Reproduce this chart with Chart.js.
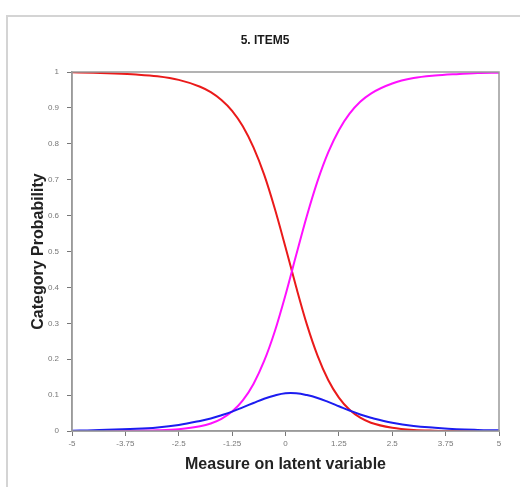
<!DOCTYPE html>
<html>
<head>
<meta charset="utf-8">
<title>5. ITEM5</title>
<script src="https://cdn.jsdelivr.net/npm/chart.js@4.4.1/dist/chart.umd.min.js"></script>
<style>
    html, body { margin: 0; padding: 0; background: #fff; }
    #wrap  { position: relative; width: 522px; height: 487px; overflow: hidden; }
    #frame { position: absolute; left: 6px; top: 15px; width: 512px; height: 480px;
             border-top: 2px solid #d4d4d4; border-left: 2px solid #d4d4d4; }
    #chart { position: absolute; left: 0; top: 0; }
</style>
</head>
<body>
<div id="wrap">
    <div id="frame"></div>
    <canvas id="chart" width="522" height="487"></canvas>
</div>
<script>
// measure on the latent variable
const measures = [-5, -4.5, -4, -3.5, -3, -2.5, -2, -1.75, -1.5, -1.25, -1, -0.75, -0.5, -0.25,
                  0, 0.25, 0.5, 0.75, 1, 1.25, 1.5, 1.75, 2, 2.5, 3, 3.5, 4, 4.5, 5];

// category 0 (red)
const cat0 = [0.999, 0.998, 0.996, 0.993, 0.988, 0.978, 0.959, 0.944, 0.922, 0.892, 0.849, 0.790, 0.714, 0.619,
              0.512, 0.401, 0.297, 0.210, 0.142, 0.093, 0.059, 0.037, 0.023, 0.009, 0.003, 0.001, 0.000, 0.000, 0.000];

// category 1 (blue)
const cat1 = [0.001, 0.002, 0.004, 0.006, 0.010, 0.017, 0.028, 0.035, 0.044, 0.054, 0.066, 0.078, 0.090, 0.099,
              0.105, 0.105, 0.100, 0.092, 0.081, 0.069, 0.057, 0.046, 0.037, 0.023, 0.014, 0.009, 0.005, 0.003, 0.002];

// category 2 (magenta)
const cat2 = [0.000, 0.000, 0.000, 0.001, 0.002, 0.005, 0.013, 0.021, 0.034, 0.054, 0.085, 0.131, 0.195, 0.278,
              0.379, 0.490, 0.599, 0.696, 0.776, 0.838, 0.884, 0.917, 0.940, 0.968, 0.983, 0.990, 0.994, 0.997, 0.998];

const xTickLabels = ['-5', '-3.75', '-2.5', '-1.25', '0', '1.25', '2.5', '3.75', '5'];
const yTickLabels = ['0', '0.1', '0.2', '0.3', '0.4', '0.5', '0.6', '0.7', '0.8', '0.9', '1'];

const FONT = "'Liberation Sans', Arial, sans-serif";
const AXIS_COLOR = '#9a9a9a';

function toPoints(values) {
    return measures.map((m, i) => ({ x: m, y: values[i] }));
}

const plotBox = {
    id : 'plotBox',
    afterDraw(chart) {
        const { ctx, chartArea: a } = chart;
        ctx.save();
        ctx.strokeStyle = AXIS_COLOR;
        ctx.lineWidth   = 1.5;
        ctx.strokeRect(a.left, a.top, a.right - a.left, a.bottom - a.top);
        ctx.restore();
    },
};

const lineStyle = { borderWidth: 2, pointRadius: 0, fill: false };

new Chart(document.getElementById('chart'), {
    type : 'line',
    data : {
        datasets : [
            { label: '1', data: toPoints(cat1), borderColor: '#1c1cf0', tension: 0.4, ...lineStyle },
            { label: '2', data: toPoints(cat2), borderColor: '#ff10ff', cubicInterpolationMode: 'monotone', ...lineStyle },
            { label: '0', data: toPoints(cat0), borderColor: '#ea1a1a', cubicInterpolationMode: 'monotone', ...lineStyle },
        ],
    },
    options : {
        responsive : false,
        animation  : false,
        layout     : { padding: { left: 8, right: 0, top: 0, bottom: 0 } },
        plugins : {
            legend  : { display: false },
            tooltip : { enabled: false },
            title   : {
                display : true,
                text    : '5. ITEM5',
                color   : '#1a1a1a',
                font    : { family: FONT, size: 12, weight: 'bold', lineHeight: 1.2 },
                padding : { top: 33, bottom: 24.6 },
            },
        },
        scales : {
            x : {
                type : 'linear',
                min  : -5,
                max  : 5,
                afterFit : (scale) => { scale.height = 56; },
                border : { color: AXIS_COLOR, width: 1.5 },
                grid   : { drawOnChartArea: false, tickLength: 5, color: '#777' },
                ticks  : {
                    stepSize    : 1.25,
                    color       : '#777',
                    padding     : 3,
                    maxRotation : 0,
                    font        : { family: FONT, size: 8 },
                    callback    : (v, i) => xTickLabels[i],
                },
                title : {
                    display : true,
                    text    : 'Measure on latent variable',
                    color   : '#222',
                    font    : { family: FONT, size: 16, weight: 'bold', lineHeight: 1.2 },
                    padding : { top: 0, bottom: 13 },
                },
            },
            y : {
                min : 0,
                max : 1,
                afterFit : (scale) => { scale.width = 64; },
                border : { color: AXIS_COLOR, width: 1.5 },
                grid   : { drawOnChartArea: false, tickLength: 5, color: '#777' },
                ticks  : {
                    stepSize : 0.1,
                    color    : '#777',
                    padding  : 8,
                    font     : { family: FONT, size: 8 },
                    callback : (v, i) => yTickLabels[i],
                },
                title : {
                    display : true,
                    text    : 'Category Probability',
                    color   : '#222',
                    font    : { family: FONT, size: 16, weight: 'bold', lineHeight: 1.2 },
                    padding : { top: 21, bottom: 0 },
                },
            },
            // empty right-hand strip so the plot stops at x = 499 while the title centres on the frame
            spacer : {
                position : 'right',
                display  : true,
                afterFit : (scale) => { scale.width = 23; },
                grid     : { display: false },
                border   : { display: false },
                ticks    : { display: false },
            },
        },
    },
    plugins : [plotBox],
});
</script>
</body>
</html>
